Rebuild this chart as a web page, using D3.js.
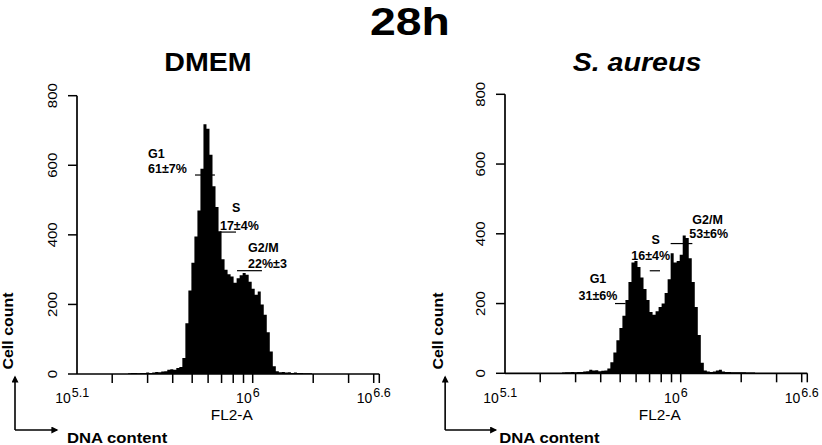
<!DOCTYPE html>
<html>
<head>
<meta charset="utf-8">
<script src="https://cdnjs.cloudflare.com/ajax/libs/d3/7.8.5/d3.min.js"></script>
<style>
  body { margin: 0; background: #fff; }
  svg { display: block; }
  text { font-family: "Liberation Sans", Arial, sans-serif; fill: #000; }
</style>
</head>
<body>
<svg></svg>
<script>
const WIDTH = 822,
  HEIGHT = 445;

// histogram channels: log10(FL2-A) bins
const binStart = 5.35,
  binStep = 0.015;

const dmemCounts = [
  0, 0, 2, 3, 3, 2, 3, 3, 4, 3, 4, 6, 5, 7, 8, 12, 14, 12, 17, 20,
  46, 146, 240, 320, 395, 470, 590, 718, 705, 630, 540, 480, 410, 330, 300, 287,
  280, 262, 275, 284, 290, 285, 265, 245, 228, 237, 200, 170, 120, 65,
  22, 8, 5, 6, 4, 5, 3, 4, 3, 3, 2, 2, 2, 0
];
const aureusCounts = [
  0, 0, 0, 0, 2, 3, 3, 4, 3, 4, 4, 5, 6, 10, 8, 9, 6, 7, 8, 14,
  32, 60, 95, 130, 165, 210, 262, 318, 322, 305, 275, 242, 210, 176, 168, 178,
  190, 200, 230, 270, 344, 318, 322, 340, 395, 388, 330, 262, 190, 110,
  30, 8, 5, 4, 5, 8, 10, 5, 4, 4, 3, 3, 3, 3, 3, 2, 2, 2, 0
];

const yTicks = [0, 200, 400, 600, 800];
const xMinorTicks = [2e5, 3e5, 4e5, 5e5, 6e5, 7e5, 8e5, 9e5, 1e6, 2e6, 3e6, 4e6];
const xLabelExps = ["5.1", "6", "6.6"];

// gate markers: phase, share, log10 range, level (cell count)
const dmemGates = [
  { phase: "G1", share: "61±7%", lo: 5.713, hi: 5.812, level: 572 },
  { phase: "S", share: "17±4%", lo: 5.837, hi: 5.917, level: 408 },
  { phase: "G2/M", share: "22%±3", lo: 5.922, hi: 6.046, level: 297 }
];
const aureusGates = [
  { phase: "G1", share: "31±6%", lo: 5.673, hi: 5.726, level: 200 },
  { phase: "S", share: "16±4%", lo: 5.846, hi: 5.897, level: 294 },
  { phase: "G2/M", share: "53±6%", lo: 5.95, hi: 6.058, level: 372 }
];

const svg = d3.select("svg").attr("width", WIDTH).attr("height", HEIGHT);

// text helper: the source figure is slightly stretched horizontally
const label = (g, x, y, str, o = {}) => {
  const sx = o.sx || 1;
  const rot = o.rotate ? ` rotate(${o.rotate})` : "";
  return g
    .append("text")
    .attr("transform", `translate(${x},${y})${rot} scale(${sx},1)`)
    .attr("text-anchor", o.anchor || "start")
    .style("font-size", (o.size || 12) + "px")
    .style("font-weight", o.bold ? "bold" : "normal")
    .style("font-style", o.italic ? "italic" : "normal")
    .text(str);
};

label(svg, 410, 35, "28h", { anchor: "middle", size: 38, bold: true, sx: 1.22 });

// label placement relative to the start of each gate line (px)
const labelLayout = {
  DMEM: {
    anchor: "start",
    G1: { p: [-47, -17], v: [-47, -2] },
    S: { p: [12, -20], v: [0, -2] },
    "G2/M": { p: [11, -19], v: [11, -3] }
  },
  aureus: {
    anchor: "middle",
    G1: { p: [-17, -21], v: [-17, -4] },
    S: { p: [6, -27], v: [1, -11] },
    "G2/M": { p: [37, -20], v: [38, -6] }
  }
};

const panels = [
  { key: "DMEM", title: "DMEM", italic: false, counts: dmemCounts, gates: dmemGates, dx: 0, y0: 374, y1: 95.7 },
  { key: "aureus", title: "S. aureus", italic: true, counts: aureusCounts, gates: aureusGates, dx: 428, y0: 373.3, y1: 94.3 }
];

const defs = svg.append("defs");
defs
  .append("marker")
  .attr("id", "arrow")
  .attr("viewBox", "0 0 10 10")
  .attr("refX", 8)
  .attr("refY", 5)
  .attr("markerUnits", "userSpaceOnUse")
  .attr("markerWidth", 8)
  .attr("markerHeight", 7)
  .attr("orient", "auto")
  .append("path")
  .attr("d", "M0,0L10,5L0,10Z")
  .attr("fill", "#000");

panels.forEach(p => {
  const g = svg.append("g").attr("class", "panel");
  const x = d3
    .scaleLog()
    .domain([Math.pow(10, 5.1), Math.pow(10, 6.6)])
    .range([71.8 + p.dx, 373.3 + p.dx]);
  const y = d3.scaleLinear().domain([0, 800]).range([p.y0, p.y1]);
  const axisX = 77 + p.dx,
    axisEnd = 379.3 + p.dx;

  // title
  label(g, 208 + p.dx + (p.italic ? 1 : 0), 71, p.title, {
    anchor: "middle",
    size: 26,
    bold: true,
    italic: p.italic,
    sx: 1.1
  });

  // histogram
  const bins = p.counts.map((c, i) => ({ lo: binStart + i * binStep, c }));
  bins.push({ lo: binStart + p.counts.length * binStep, c: 0 });
  const area = d3
    .area()
    .curve(d3.curveStepAfter)
    .x(d => x(Math.pow(10, d.lo)))
    .y0(y(0))
    .y1(d => y(d.c));
  g.append("path").datum(bins).attr("d", area).attr("fill", "#000");

  // y axis
  g.append("line")
    .attr("x1", axisX).attr("x2", axisX)
    .attr("y1", y(800)).attr("y2", y(0))
    .attr("stroke", "#000").attr("stroke-width", 1.7);
  yTicks.forEach(t => {
    g.append("line")
      .attr("x1", axisX - 9).attr("x2", axisX)
      .attr("y1", y(t)).attr("y2", y(t))
      .attr("stroke", "#000").attr("stroke-width", 1.5);
    label(g, axisX - 20, y(t), String(t), { anchor: "middle", size: 13, rotate: -90, sx: 1.15 });
  });

  // x axis
  g.append("line")
    .attr("x1", axisX).attr("x2", axisEnd)
    .attr("y1", y(0)).attr("y2", y(0))
    .attr("stroke", "#000").attr("stroke-width", 1.7);
  xMinorTicks.concat([x.invert(axisEnd)]).forEach(t => {
    g.append("line")
      .attr("x1", x(t)).attr("x2", x(t))
      .attr("y1", y(0)).attr("y2", y(0) + 9)
      .attr("stroke", "#000").attr("stroke-width", 1.5);
  });
  xLabelExps.forEach(e => {
    const tx = x(Math.pow(10, +e));
    label(g, tx - 1, 403, "10", { anchor: "end", size: 14 });
    label(g, tx, 397, e, { anchor: "start", size: 12.5 });
  });
  label(g, x(1e6) - 21, 420, "FL2-A", { anchor: "middle", size: 14, sx: 1.1 });

  // gate markers and labels
  const lay = labelLayout[p.key];
  p.gates.forEach(gt => {
    const x1 = x(Math.pow(10, gt.lo)),
      x2 = x(Math.pow(10, gt.hi)),
      yy = y(gt.level);
    g.append("line")
      .attr("x1", x1).attr("x2", x2)
      .attr("y1", yy).attr("y2", yy)
      .attr("stroke", "#000").attr("stroke-width", 1.2);
    const l = lay[gt.phase];
    label(g, x1 + l.p[0], yy + l.p[1], gt.phase, { anchor: lay.anchor, size: 12.5, bold: true });
    label(g, x1 + l.v[0], yy + l.v[1], gt.share, { anchor: lay.anchor, size: 12.5, bold: true });
  });

  // corner arrows and axis names
  const ax = 15 + p.dx * 1.005;
  g.append("line")
    .attr("x1", ax).attr("x2", ax)
    .attr("y1", 430).attr("y2", 377)
    .attr("stroke", "#000").attr("stroke-width", 1.6)
    .attr("marker-end", "url(#arrow)");
  g.append("line")
    .attr("x1", ax).attr("x2", ax + 42 + p.dx * 0.02)
    .attr("y1", 430).attr("y2", 430)
    .attr("stroke", "#000").attr("stroke-width", 1.6)
    .attr("marker-end", "url(#arrow)");
  label(g, ax - 2, 331, "Cell count", { anchor: "middle", size: 14, bold: true, rotate: -90, sx: 1.14 });
  label(g, 67 + p.dx * 1.01, 443, "DNA content", { anchor: "start", size: 14.5, bold: true, sx: 1.15 });
});
</script>
</body>
</html>
